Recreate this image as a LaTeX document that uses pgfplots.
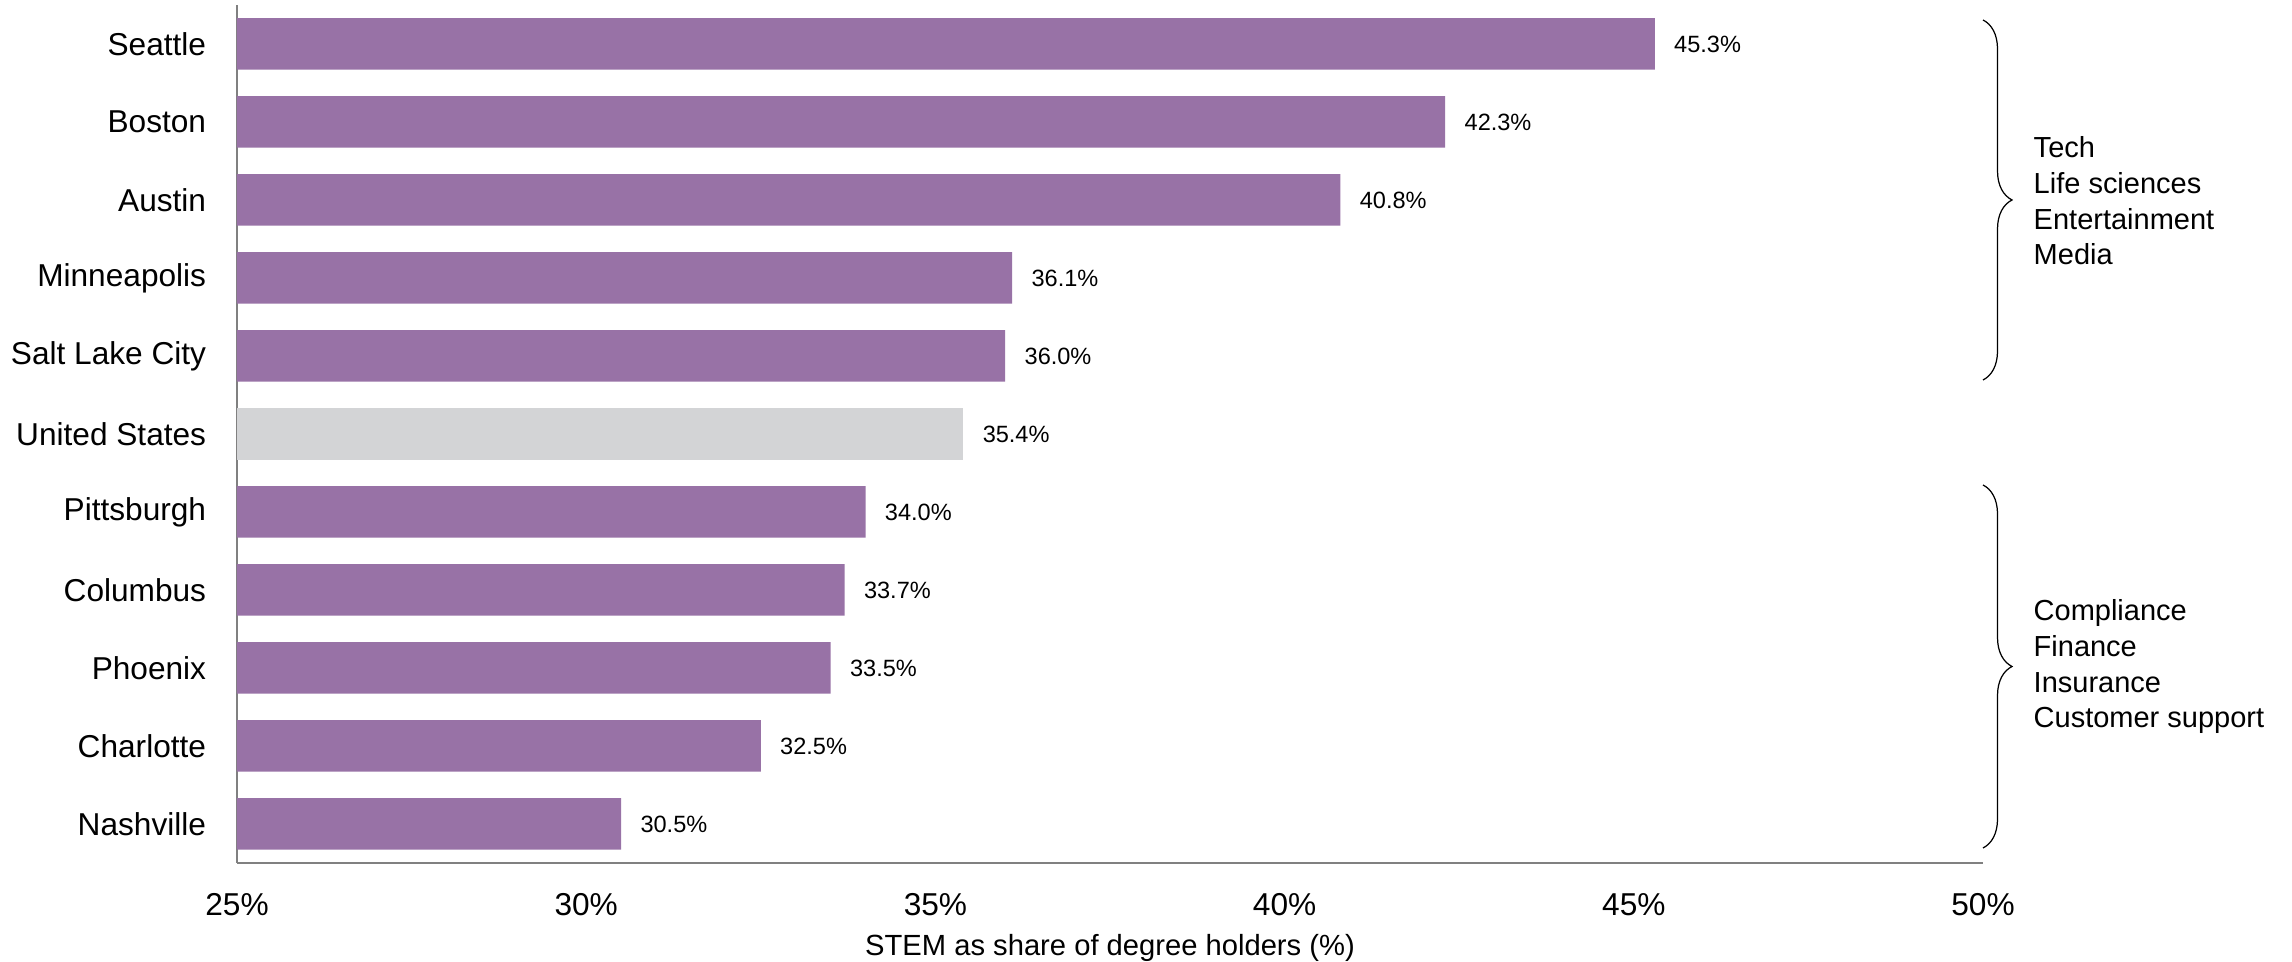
\documentclass[border=0pt]{standalone}
\usepackage{pgfplots}
\pgfplotsset{compat=1.18}
\usepackage{fontspec}
\setmainfont{Liberation Sans}
\usetikzlibrary{decorations.pathreplacing}
\definecolor{barpurple}{RGB}{152,114,166}
\definecolor{bargray}{RGB}{211,212,214}
\definecolor{axisgray}{RGB}{128,128,128}
\begin{document}
\begin{tikzpicture}
\useasboundingbox (0,0) rectangle (22.92,9.62);
\begin{axis}[
 at={(2.37cm,0.99cm)}, anchor=south west,
 scale only axis, width=17.46cm, height=8.58cm,
 xmin=25, xmax=50, ymin=-0.5, ymax=10.5,
 xbar, bar width=0.66, bar shift=0pt,
 axis x line=bottom, axis y line=left,
 axis line style={-, draw=axisgray, line width=0.45pt},
 major tick length=0pt,
 xtick={25,30,35,40,45,50},
 xticklabels={25\%,30\%,35\%,40\%,45\%,50\%},
 ytick={0,...,10},
 yticklabels={Nashville,Charlotte,Phoenix,Columbus,Pittsburgh,United States,Salt Lake City,Minneapolis,Austin,Boston,Seattle},
 ticklabel style={font=\fontsize{9}{11}\selectfont},
 xticklabel style={yshift=-0.185cm},
 yticklabel style={xshift=-0.185cm},
 xlabel={STEM as share of degree holders (\%)},
 xlabel style={at={(axis description cs:0.5,0)}, anchor=center, yshift=-0.85cm, font=\fontsize{8.3}{10}\selectfont},
 point meta=explicit symbolic,
 nodes near coords={\pgfplotspointmeta\%},
 nodes near coords style={font=\fontsize{6.7}{8}\selectfont, anchor=west, xshift=0.07cm, text=black},
]
\addplot[fill=barpurple, draw=none] coordinates {
 (45.3,10)[45.3] (42.3,9)[42.3] (40.8,8)[40.8] (36.1,7)[36.1] (36.0,6)[36.0]
 (34.0,4)[34.0] (33.7,3)[33.7] (33.5,2)[33.5] (32.5,1)[32.5] (30.5,0)[30.5]};
\addplot[fill=bargray, draw=none] coordinates {(35.4,5)[35.4]};
\end{axis}
\draw[black, line width=0.35pt, decorate, decoration={brace, amplitude=0.29cm}] (19.83,9.42) -- (19.83,5.82);
\draw[black, line width=0.35pt, decorate, decoration={brace, amplitude=0.29cm}] (19.83,4.77) -- (19.83,1.14);
\node[anchor=west, align=left, inner sep=0pt, font=\fontsize{8.25}{10.15}\selectfont] at (20.33,7.61) {Tech\\Life sciences\\Entertainment\\Media};
\node[anchor=west, align=left, inner sep=0pt, font=\fontsize{8.25}{10.15}\selectfont] at (20.33,2.95) {Compliance\\Finance\\Insurance\\Customer support};
\end{tikzpicture}
\end{document}
